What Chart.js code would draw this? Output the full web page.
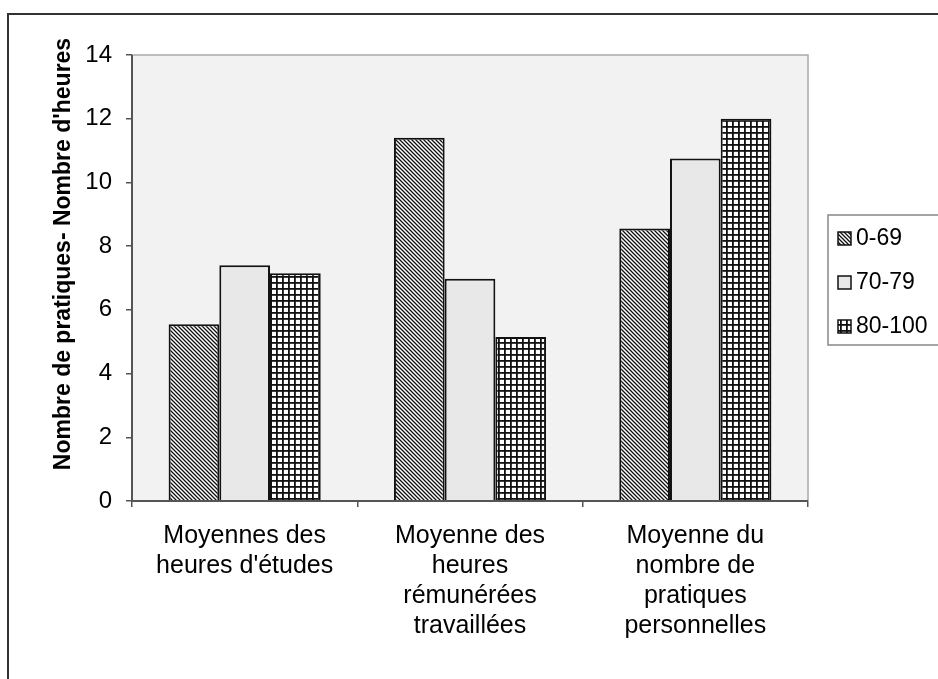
<!DOCTYPE html>
<html>
<head>
<meta charset="utf-8">
<script src="https://cdn.jsdelivr.net/npm/chart.js@4/dist/chart.umd.min.js"></script>
<style>
html,body{margin:0;padding:0;background:#fff;}
#wrap{width:938px;height:679px;position:relative;}
</style>
</head>
<body>
<div id="wrap"><canvas id="c" width="938" height="679"></canvas></div>
<script>
const categories = [
  ["Moyennes des", "heures d'études"],
  ["Moyenne des", "heures", "rémunérées", "travaillées"],
  ["Moyenne du", "nombre de", "pratiques", "personnelles"]
];
const seriesNames = ["0-69", "70-79", "80-100"];
const values0_69 = [5.55, 11.4, 8.55];
const values70_79 = [7.4, 6.98, 10.75];
const values80_100 = [7.15, 5.15, 12.0];
const yTicks = [0, 2, 4, 6, 8, 10, 12, 14];
const yTitle = "Nombre de pratiques- Nombre d'heures";

const FONT = '"Liberation Sans", Arial, sans-serif';

function diagPattern() {
  const c = document.createElement('canvas');
  c.width = 4; c.height = 4;
  const g = c.getContext('2d');
  g.fillStyle = '#fff'; g.fillRect(0,0,4,4);
  g.strokeStyle = '#111'; g.lineWidth = 1.3;
  g.beginPath();
  g.moveTo(-1,-1); g.lineTo(5,5);
  g.moveTo(-1,3); g.lineTo(1,5);
  g.moveTo(3,-1); g.lineTo(5,1);
  g.stroke();
  return document.getElementById('c').getContext('2d').createPattern(c,'repeat');
}
function gridPattern() {
  const c = document.createElement('canvas');
  c.width = 6; c.height = 6;
  const g = c.getContext('2d');
  g.fillStyle = '#fff'; g.fillRect(0,0,6,6);
  g.fillStyle = '#111';
  g.fillRect(0,0,6,1.8);
  g.fillRect(0,0,1.8,6);
  return document.getElementById('c').getContext('2d').createPattern(c,'repeat');
}
const fills = [diagPattern(), '#e8e8e8', gridPattern()];

const framePlugin = {
  id: 'frame',
  beforeDraw(chart) {
    const ctx = chart.ctx, a = chart.chartArea;
    ctx.save();
    ctx.fillStyle = '#fff';
    ctx.fillRect(0,0,chart.width,chart.height);
    ctx.fillStyle = '#f2f2f2';
    ctx.fillRect(a.left, a.top, a.right - a.left, a.bottom - a.top);
    ctx.strokeStyle = '#aaa'; ctx.lineWidth = 1.5;
    ctx.beginPath();
    ctx.moveTo(a.left, a.top); ctx.lineTo(a.right, a.top); ctx.lineTo(a.right, a.bottom);
    ctx.stroke();
    ctx.strokeStyle = '#333'; ctx.lineWidth = 2;
    ctx.beginPath();
    ctx.moveTo(8, 679); ctx.lineTo(8, 14); ctx.lineTo(938, 14);
    ctx.stroke();
    ctx.restore();
  },
  afterDraw(chart) {
    const ctx = chart.ctx, a = chart.chartArea;
    ctx.save();
    ctx.strokeStyle = '#555'; ctx.lineWidth = 2;
    ctx.beginPath();
    ctx.moveTo(a.left, a.top); ctx.lineTo(a.left, a.bottom); ctx.lineTo(a.right, a.bottom);
    ctx.stroke();
    ctx.translate(64, 254);
    ctx.rotate(-Math.PI/2);
    ctx.fillStyle = '#000';
    ctx.font = 'bold 23px ' + FONT;
    ctx.textAlign = 'center'; ctx.textBaseline = 'middle';
    ctx.fillText(yTitle, 0, 0);
    ctx.restore();
    ctx.save();
    ctx.fillStyle = '#fff';
    ctx.strokeStyle = '#888'; ctx.lineWidth = 1.5;
    ctx.fillRect(828, 215, 120, 130);
    ctx.strokeRect(828, 215, 120, 130);
    ctx.font = '23px ' + FONT;
    ctx.textBaseline = 'middle';
    const ys = [238, 282, 326];
    chart.data.datasets.forEach((ds, i) => {
      const y = ys[i];
      ctx.fillStyle = ds.backgroundColor;
      ctx.fillRect(838, y - 6, 13, 13);
      ctx.strokeStyle = '#111'; ctx.lineWidth = 1.5;
      ctx.strokeRect(838, y - 6, 13, 13);
      ctx.fillStyle = '#000';
      ctx.fillText(ds.label, 856, y + 1);
    });
    ctx.restore();
  }
};

new Chart(document.getElementById('c'), {
  type: 'bar',
  data: {
    labels: categories,
    datasets: [
      { label: seriesNames[0], data: values0_69, backgroundColor: fills[0] },
      { label: seriesNames[1], data: values70_79, backgroundColor: fills[1] },
      { label: seriesNames[2], data: values80_100, backgroundColor: fills[2] }
    ].map(d => Object.assign(d, { borderColor: '#111', borderWidth: 2, categoryPercentage: 0.675, barPercentage: 1 }))
  },
  options: {
    responsive: false,
    animation: false,
    devicePixelRatio: 1,
    layout: { padding: { left: 0, right: 130, top: 55, bottom: 0 } },
    plugins: { legend: { display: false }, tooltip: { enabled: false } },
    scales: {
      x: {
        grid: { display: true, drawOnChartArea: false, tickLength: 6, color: '#555', lineWidth: 1.5 },
        border: { display: false },
        ticks: { color: '#000', font: { family: FONT, size: 25, lineHeight: 1.2 }, padding: 14, maxRotation: 0, autoSkip: false },
        afterFit(s) { s.height = 178; }
      },
      y: {
        min: 0, max: 14,
        afterBuildTicks(s) { s.ticks = yTicks.map(v => ({ value: v })); },
        grid: { display: true, drawOnChartArea: false, tickLength: 6, color: '#555', lineWidth: 1.5 },
        border: { display: false },
        ticks: { color: '#000', font: { family: FONT, size: 24 }, padding: 14 },
        afterFit(s) { s.width = 132; }
      }
    }
  },
  plugins: [framePlugin]
});
</script>
</body>
</html>
